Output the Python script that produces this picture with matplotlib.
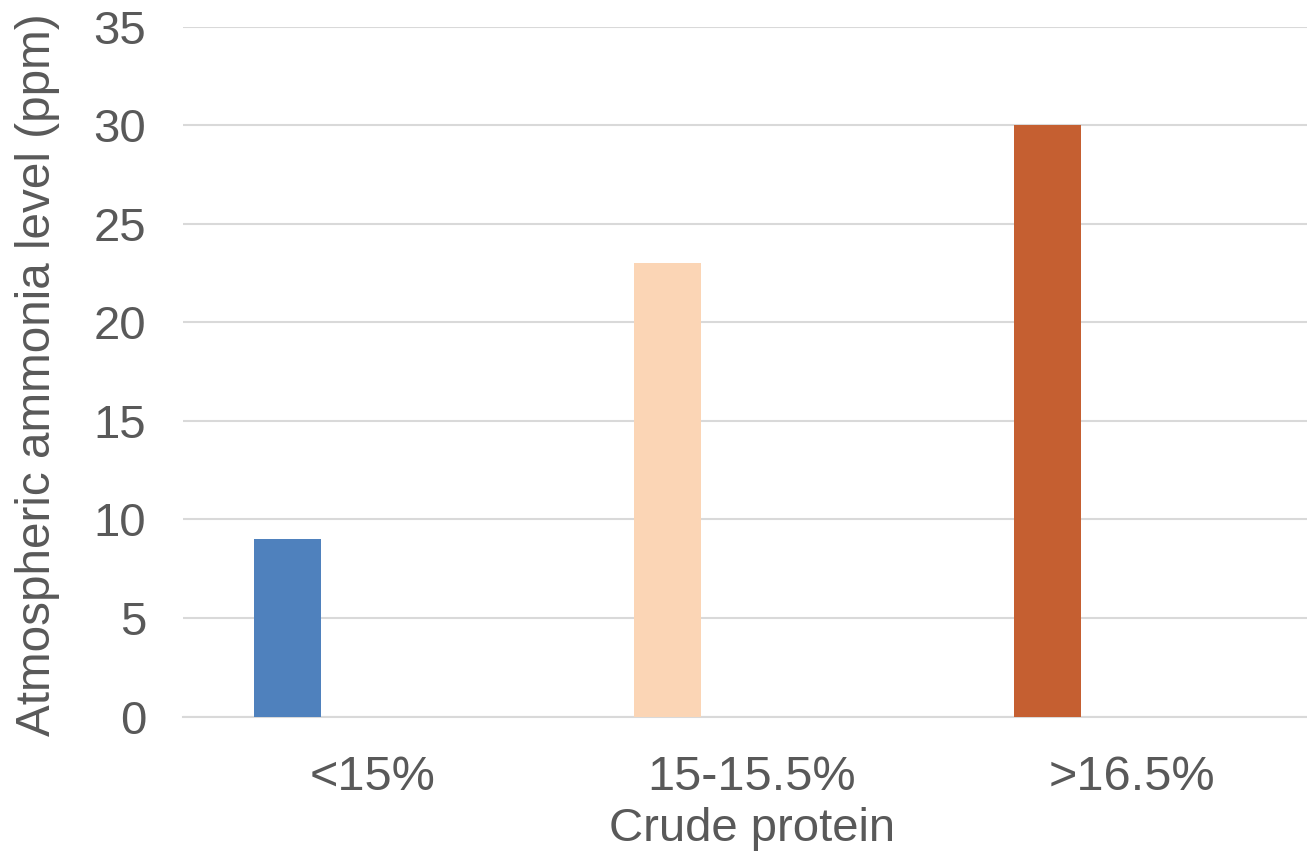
import numpy as np
import matplotlib.pyplot as plt
import matplotlib

matplotlib.rcParams['font.family'] = ['Liberation Sans', 'DejaVu Sans']

categories = ['<15%', '15-15.5%', '>16.5%']
ammonia_ppm = [9, 23, 30]
bar_colors = ['#4F81BD', '#FBD5B5', '#C55F31']

text_color = '#595959'
grid_color = '#D9D9D9'

fig = plt.figure(figsize=(13.07, 8.56), dpi=100)
# plot area runs a little past the right edge of the figure
ax = fig.add_axes([182.5 / 1307, 1 - 716.5 / 856, 1139 / 1307, 690 / 856])

x = np.arange(len(categories))
ax.bar(x - 0.2227, ammonia_ppm, width=0.1765, color=bar_colors, zorder=3)

ax.set_xlim(-0.5, 2.5)
ax.set_ylim(0, 35)
ax.set_yticks(range(0, 36, 5))
ax.set_xticks(x)
ax.set_xticklabels(categories)

ax.yaxis.grid(True, color=grid_color, linewidth=1.5)
ax.set_axisbelow(True)
for side in ['top', 'right', 'left']:
    ax.spines[side].set_visible(False)
ax.spines['bottom'].set_color(grid_color)
ax.spines['bottom'].set_linewidth(1.5)

ax.tick_params(axis='y', length=0, pad=26, labelsize=34, labelcolor=text_color)
ax.tick_params(axis='x', length=0, pad=28, labelsize=35, labelcolor=text_color)

fig.text(38 / 1307, 1 - 375 / 856, 'Atmospheric ammonia level (ppm)', rotation=90,
         ha='center', va='center', fontsize=34.3, color=text_color)
fig.text(752 / 1307, 1 - 829 / 856, 'Crude protein', ha='center', va='center',
         fontsize=34, color=text_color)

fig.savefig('out.png', dpi=100)
plt.close()
